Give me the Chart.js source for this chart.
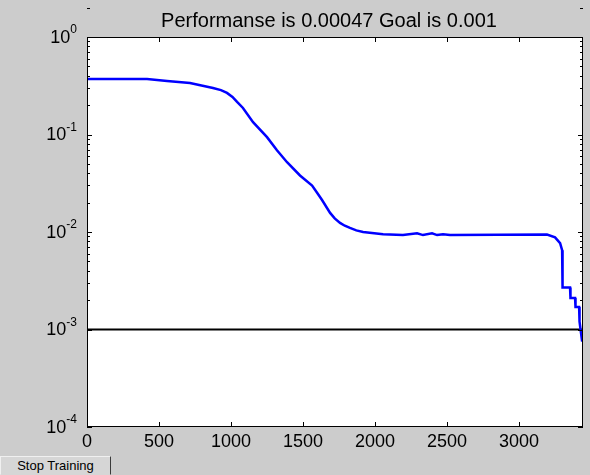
<!DOCTYPE html>
<html>
<head>
<meta charset="utf-8">
<script src="https://cdn.jsdelivr.net/npm/chart.js@4"></script>
<style>
  body { margin: 0; background: #cccccc; }
  #wrap { position: relative; width: 590px; height: 475px; }
  #stopBtn {
    position: absolute; left: 0; top: 456px; width: 111px; height: 19px;
    background: #d6d6d6; color: #000; padding: 0;
    border: 1px solid; border-color: #f0f0f0 #3a3a3a #d6d6d6 #f0f0f0;
    font: 13px "Liberation Sans", Arial, sans-serif;
  }
</style>
</head>
<body>
<div id="wrap">
  <canvas id="perf" width="590" height="475"></canvas>
  <button id="stopBtn">Stop Training</button>
</div>
<script>
// training performance
const perfIter = [0, 417, 556, 715, 875, 930, 972, 1010, 1042, 1083, 1153, 1250, 1319, 1389,
  1479, 1563, 1600, 1632, 1688, 1720, 1757, 1790, 1826, 1870, 1917, 2056, 2194, 2292, 2333,
  2396, 2431, 2472, 2521, 3194, 3250, 3285, 3299, 3302, 3354, 3357, 3389, 3392, 3417, 3420, 3438];
const perfValue = [0.371, 0.371, 0.354, 0.338, 0.300, 0.285, 0.267, 0.243, 0.216, 0.187, 0.134,
  0.094, 0.069, 0.052, 0.038, 0.030, 0.025, 0.0213, 0.0157, 0.0138, 0.0124, 0.0116, 0.0110,
  0.0104, 0.0100, 0.0095, 0.0093, 0.0097, 0.0093, 0.0097, 0.0093, 0.0095, 0.0093, 0.0094,
  0.0088, 0.0077, 0.0065, 0.0027, 0.0027, 0.0021, 0.0021, 0.0017, 0.0017, 0.0012, 0.00075];

const goalValue = 0.001;
const xMax = 3444;
const xTicks = [0, 500, 1000, 1500, 2000, 2500, 3000];
const yExponents = [0, -1, -2, -3, -4];
const titleText = 'Performanse is 0.00047 Goal is 0.001';

const FONT = '"Liberation Sans", Arial, sans-serif';

const matlabAxes = {
  id: 'matlabAxes',
  beforeDraw(chart) {
    const { ctx, chartArea: a } = chart;
    ctx.save();
    ctx.fillStyle = '#cccccc';
    ctx.fillRect(0, 0, chart.width, chart.height);
    ctx.fillStyle = '#ffffff';
    ctx.fillRect(a.left, a.top, a.right - a.left, a.bottom - a.top);
    ctx.restore();
  },
  afterDraw(chart) {
    const { ctx, chartArea: a } = chart;
    const xs = chart.scales.x, ys = chart.scales.y;
    ctx.save();
    ctx.strokeStyle = '#000';
    ctx.lineWidth = 1;
    ctx.strokeRect(a.left + 0.5, a.top + 0.5, a.right - a.left - 1, a.bottom - a.top - 1);

    // inward tick marks
    ctx.beginPath();
    xTicks.forEach(v => {
      const px = Math.round(xs.getPixelForValue(v)) + 0.5;
      ctx.moveTo(px, a.bottom); ctx.lineTo(px, a.bottom - 5);
      ctx.moveTo(px, a.top); ctx.lineTo(px, a.top + 5);
    });
    yExponents.forEach(e => {
      for (let m = 1; m <= 9; m++) {
        if (e === -4 && m > 1) break;
        const len = m === 1 ? 5 : 3;
        const py = Math.round(ys.getPixelForValue(m * Math.pow(10, e))) + 0.5;
        ctx.moveTo(a.left, py); ctx.lineTo(a.left + len, py);
        ctx.moveTo(a.right, py); ctx.lineTo(a.right - len, py);
      }
    });
    ctx.stroke();

    // labels
    ctx.fillStyle = '#000';
    ctx.textBaseline = 'top';
    ctx.textAlign = 'center';
    ctx.font = '18px ' + FONT;
    xTicks.forEach(v => ctx.fillText(String(v), xs.getPixelForValue(v), a.bottom + 6));

    ctx.textBaseline = 'middle';
    ctx.textAlign = 'left';
    yExponents.forEach(e => {
      const py = ys.getPixelForValue(Math.pow(10, e));
      const sup = String(e);
      ctx.font = '12px ' + FONT;
      const sw = ctx.measureText(sup).width;
      ctx.font = '18px ' + FONT;
      const bw = ctx.measureText('10').width;
      const right = 77;
      ctx.fillText('10', right - sw - bw, py + 1);
      ctx.font = '12px ' + FONT;
      ctx.fillText(sup, right - sw, py - 7);
    });

    ctx.textAlign = 'center';
    ctx.textBaseline = 'alphabetic';
    ctx.font = '20px ' + FONT;
    ctx.fillText(titleText, (a.left + a.right) / 2 - 6, 27);
    ctx.restore();
  }
};

new Chart(document.getElementById('perf'), {
  type: 'line',
  data: {
    datasets: [
      {
        label: 'Performance',
        data: perfIter.map((x, i) => ({ x, y: perfValue[i] })),
        borderColor: '#0000ff',
        borderWidth: 2.5,
        pointRadius: 0,
        tension: 0,
      },
      {
        label: 'Goal',
        data: [{ x: 0, y: goalValue }, { x: xMax, y: goalValue }],
        borderColor: '#000000',
        borderWidth: 2,
        pointRadius: 0,
      },
    ],
  },
  options: {
    responsive: false,
    animation: false,
    devicePixelRatio: 1,
    layout: { padding: { left: 87, right: 7, top: 37, bottom: 48 } },
    plugins: { legend: { display: false }, tooltip: { enabled: false }, title: { display: false } },
    scales: {
      x: { type: 'linear', min: 0, max: xMax, display: false },
      y: { type: 'logarithmic', min: 1e-4, max: 1, display: false },
    },
  },
  plugins: [matlabAxes],
});
</script>
</body>
</html>
